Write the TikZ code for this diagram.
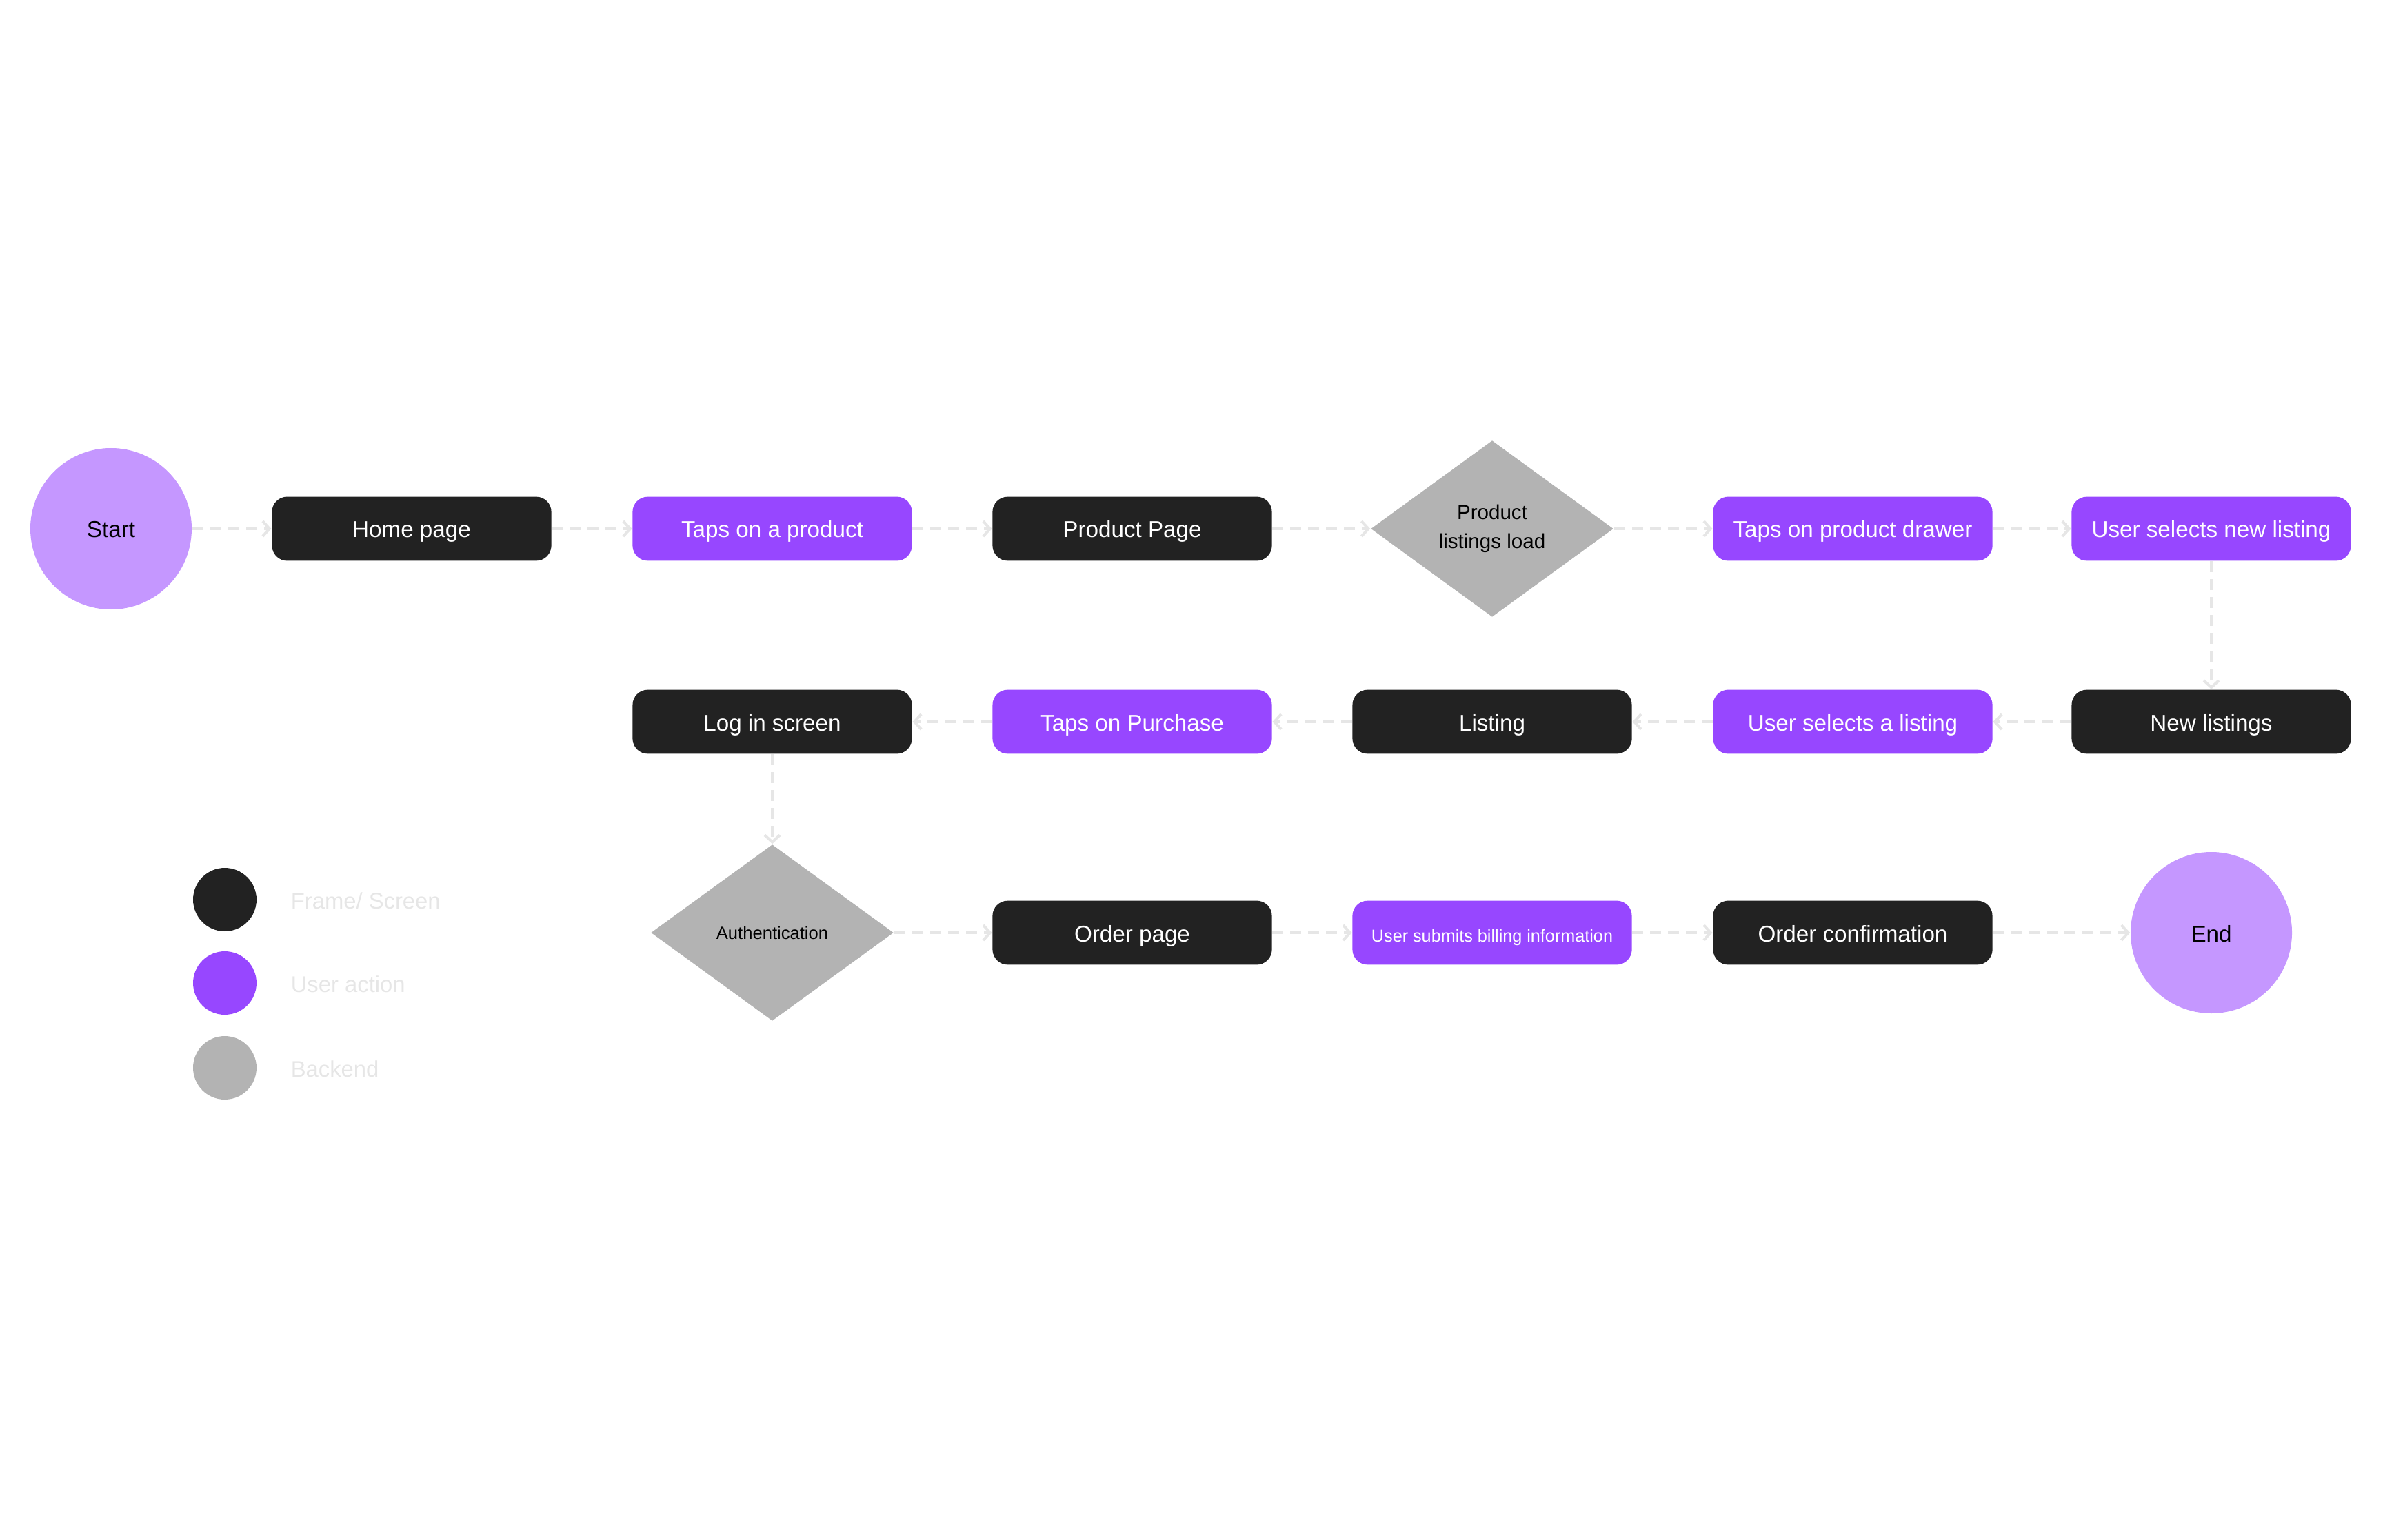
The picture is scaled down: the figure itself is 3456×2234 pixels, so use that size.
\documentclass[tikz,border=0pt]{standalone}
\usepackage{fontspec}
\setmainfont{Liberation Sans}
\usetikzlibrary{shapes.geometric,arrows.meta}
\definecolor{dark}{HTML}{222222}
\definecolor{purp}{HTML}{9747FF}
\definecolor{lpurp}{HTML}{C597FF}
\definecolor{gry}{HTML}{B3B3B3}
\definecolor{conn}{HTML}{E6E6E6}
\definecolor{legtxt}{HTML}{E6E6E6}
\tikzset{
  box/.style={rounded corners=5.5pt, minimum width=101.3pt, minimum height=23.2pt, inner sep=0pt, text=white, text height=0.8em, text depth=0.15em, font=\fontsize{8.3}{10}\selectfont},
  framebox/.style={box, fill=dark},
  actionbox/.style={box, fill=purp},
  backendbox/.style={diamond, fill=gry, minimum width=88pt, minimum height=64pt, inner sep=0pt, align=center, text=black, font=\fontsize{7.4}{10.5}\selectfont},
  termbox/.style={circle, fill=lpurp, minimum size=58.5pt, inner sep=0pt, text=black, text height=0.8em, text depth=0.15em, font=\fontsize{8.3}{10}\selectfont},
  legdot/.style={circle, minimum size=23pt, inner sep=0pt},
  legtext/.style={anchor=west, inner sep=0pt, text=legtxt, text height=0.8em, text depth=0.15em, font=\fontsize{8.2}{10}\selectfont},
  flow/.style={draw=conn, line width=1pt, dash pattern=on 4pt off 2.5pt, -{Straight Barb[length=2.5pt,width=5.5pt]}}
}
\begin{document}
\begin{tikzpicture}[x=0.25pt,y=-0.25pt]
\path[use as bounding box] (0,0) rectangle (3456,2234);
% row 1
\node[termbox] (start) at (161,767) {Start};
\node[framebox] (home) at (597,767) {Home page};
\node[actionbox] (tap) at (1120,767) {Taps on a product};
\node[framebox] (prod) at (1642,767) {Product Page};
\node[backendbox] (load) at (2164,767) {Product\\listings load};
\node[actionbox] (drawer) at (2687,767) {Taps on product drawer};
\node[actionbox] (newsel) at (3207,767) {User selects new listing};
% row 2
\node[framebox] (login) at (1120,1047) {Log in screen};
\node[actionbox] (purchase) at (1642,1047) {Taps on Purchase};
\node[framebox] (listing) at (2164,1047) {Listing};
\node[actionbox] (sel) at (2687,1047) {User selects a listing};
\node[framebox] (newl) at (3207,1047) {New listings};
% row 3
\node[backendbox, font=\fontsize{6.4}{9}\selectfont] (auth) at (1120,1353) {Authentication};
\node[framebox] (order) at (1642,1353) {Order page};
\node[actionbox, font=\fontsize{6.3}{8}\selectfont] (bill) at (2164,1353) {User submits billing information};
\node[framebox] (conf) at (2687,1353) {Order confirmation};
\node[termbox] (end) at (3207,1353) {End};
% legend
\node[legdot, fill=dark] (l1) at (326,1305) {};
\node[legdot, fill=purp] (l2) at (326,1426) {};
\node[legdot, fill=gry] (l3) at (326,1549) {};
\node[legtext] (t1) at (421,1305) {Frame/ Screen};
\node[legtext] (t2) at (421,1426) {User action};
\node[legtext] (t3) at (421,1549) {Backend};
% connectors
\draw[flow] (start) -- (home);
\draw[flow] (home) -- (tap);
\draw[flow] (tap) -- (prod);
\draw[flow] (prod) -- (load);
\draw[flow] (load) -- (drawer);
\draw[flow] (drawer) -- (newsel);
\draw[flow] (newsel) -- (newl);
\draw[flow] (newl) -- (sel);
\draw[flow] (sel) -- (listing);
\draw[flow] (listing) -- (purchase);
\draw[flow] (purchase) -- (login);
\draw[flow] (login) -- (auth);
\draw[flow] (auth) -- (order);
\draw[flow] (order) -- (bill);
\draw[flow] (bill) -- (conf);
\draw[flow] (conf) -- (end);
\end{tikzpicture}
\end{document}
